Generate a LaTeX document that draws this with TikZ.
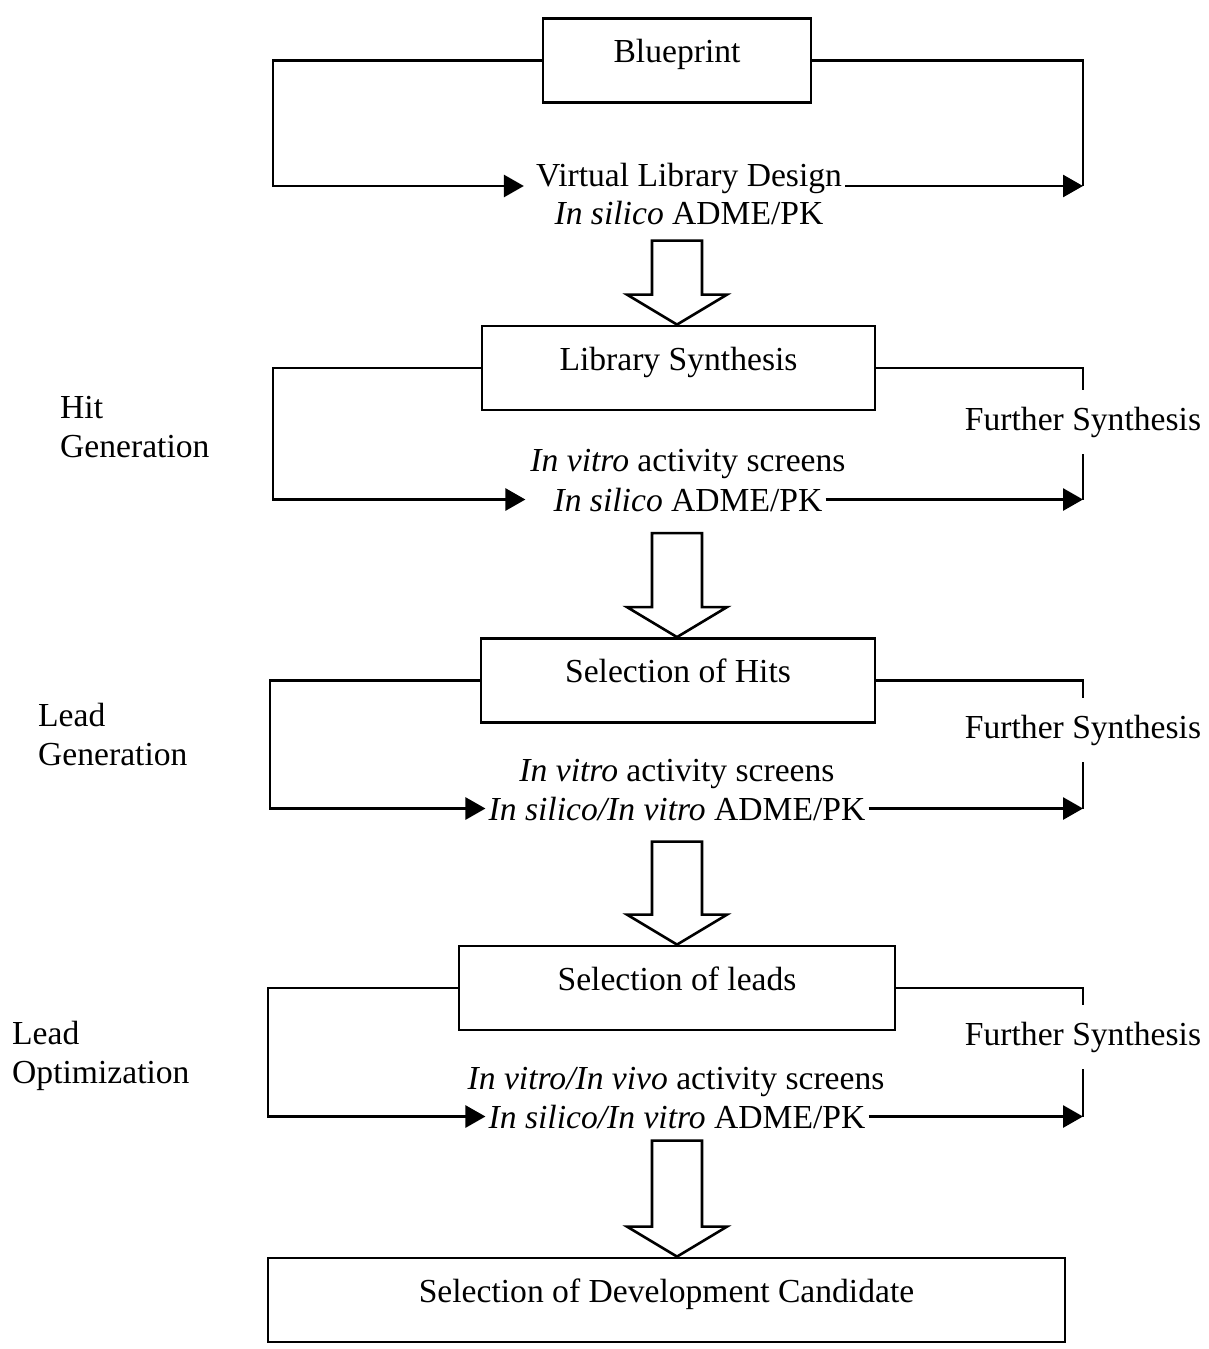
\documentclass[tikz,border=0pt]{standalone}
\usepackage{fontspec}
\setmainfont{Liberation Serif}
\usetikzlibrary{arrows.meta,calc}
\newcommand\hollowarrow[2]{\draw[hollow] #1 -- ++(-50,-30) -- ++(25,0) -- ++(0,{30-#2}) -- ++(50,0) -- ++(0,{#2-30}) -- ++(25,0) -- cycle;}
\begin{document}
\begin{tikzpicture}[x=1pt,y=-1pt,
  every node/.style={font=\fontsize{33.6}{39}\selectfont},
  box/.style={draw,line width=2.8pt,inner sep=0pt,text height=44pt,text depth=40pt},
  txt/.style={inner sep=3pt},
  furth/.style={inner xsep=0pt,inner ysep=17pt},
  sidelbl/.style={anchor=north west,inner sep=0pt,align=left},
  conn/.style={line width=2.8pt},
  arr/.style={conn,-{Triangle[length=20pt,width=22pt]}},
  hollow/.style={line width=2.6pt,line join=miter}]
\useasboundingbox (0,0) rectangle (1208,1349);

% group 1
\node[box,minimum width=268pt] (bp) at (677,60.5) {Blueprint};
\node[txt,anchor=base] (v1) at (689,186) {Virtual Library Design};
\node[txt,anchor=base] (v2) at (689,224) {\textit{In silico} ADME/PK};
\coordinate (r1) at (1083,186);
\coordinate (L1) at (273,0);
\draw[arr] (bp.west) -- (bp.west -| L1) |- ([xshift=-9pt]v1.base west);
\draw[conn] (bp.east) -| (r1);
\draw[arr] (v1.base east) -- (r1);

% group 2
\node[box,minimum width=393pt] (ls) at (678.5,368) {Library Synthesis};
\node[txt,anchor=base] (a1) at (688,471) {\textit{In vitro} activity screens};
\node[txt,anchor=base] (a2) at (688,511) {\textit{In silico} ADME/PK};
\node[furth] (f1) at (1083,422) {Further Synthesis};
\coordinate (L2) at (273,0);
\draw[arr] (ls.west) -- (ls.west -| L2) |- ([xshift=-25pt]a2.west);
\draw[conn] (ls.east) -| (f1.north);
\draw[conn] (f1.south) -- (f1.south |- a2.east);
\draw[arr] (a2.east) -- (a2.east -| f1.south);

% group 3
\node[box,minimum width=394pt] (sh) at (678,680.5) {Selection of Hits};
\node[txt,anchor=base] (b1) at (677,781) {\textit{In vitro} activity screens};
\node[txt,anchor=base] (b2) at (677,820) {\textit{In silico/In vitro} ADME/PK};
\node[furth] (f2) at (1083,730) {Further Synthesis};
\coordinate (L3) at (270,0);
\draw[arr] (sh.west) -- (sh.west -| L3) |- (b2.west);
\draw[conn] (sh.east) -| (f2.north);
\draw[conn] (f2.south) -- (f2.south |- b2.east);
\draw[arr] (b2.east) -- (b2.east -| f2.south);

% group 4
\node[box,minimum width=436pt] (sl) at (677,988) {Selection of leads};
\node[txt,anchor=base] (c1) at (676,1089) {\textit{In vitro/In vivo} activity screens};
\node[txt,anchor=base] (c2) at (677,1128) {\textit{In silico/In vitro} ADME/PK};
\node[furth] (f3) at (1083,1037) {Further Synthesis};
\coordinate (L4) at (268,0);
\draw[arr] (sl.west) -- (sl.west -| L4) |- (c2.west);
\draw[conn] (sl.east) -| (f3.north);
\draw[conn] (f3.south) -- (f3.south |- c2.east);
\draw[arr] (c2.east) -- (c2.east -| f3.south);

% final
\node[box,minimum width=797pt] (dc) at (666.5,1300) {Selection of Development Candidate};

% hollow arrows
\hollowarrow{(ls.north -| sl.north)}{84}
\hollowarrow{(sh.north -| sl.north)}{104}
\hollowarrow{(sl.north)}{103}
\hollowarrow{(dc.north -| sl.north)}{116}

% side labels
\node[sidelbl] (hg) at (60,396) {Hit\\Generation};
\node[sidelbl] (lg) at (38,703) {Lead\\Generation};
\node[sidelbl] (lo) at (12,1021) {Lead\\Optimization};
\end{tikzpicture}
\end{document}
